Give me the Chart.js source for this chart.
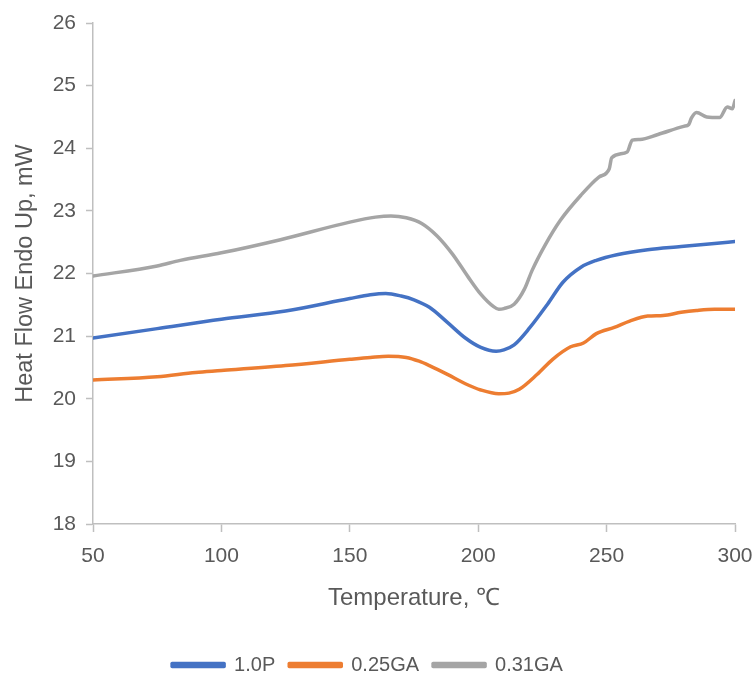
<!DOCTYPE html>
<html>
<head>
<meta charset="utf-8">
<script src="https://cdn.jsdelivr.net/npm/chart.js@4"></script>
<style>
  html, body { margin: 0; padding: 0; background: #fff; }
  #wrap { width: 754px; height: 675px; }
</style>
</head>
<body>
<div id="wrap"><canvas id="c" width="754" height="675"></canvas></div>
<script>
// temperatures (°C) and heat flow (mW)
const tempP = [50, 75, 100, 125, 150, 158, 164, 170, 175, 181, 188, 195, 201, 207, 210, 214, 220, 227, 233, 240, 246, 254, 266, 279, 292, 300];
const flowP = [20.97, 21.12, 21.27, 21.40, 21.60, 21.66, 21.68, 21.64, 21.58, 21.46, 21.22, 20.97, 20.82, 20.76, 20.78, 20.86, 21.13, 21.51, 21.86, 22.10, 22.21, 22.30, 22.38, 22.43, 22.48, 22.51];

const tempGA25 = [50, 75, 90, 100, 125, 150, 158, 165, 172, 177, 181, 188, 195, 201, 208, 212, 216, 223, 229, 236, 241, 246, 253, 259, 266, 272, 279, 285, 292, 300];
const flowGA25 = [20.30, 20.35, 20.42, 20.45, 20.53, 20.63, 20.66, 20.68, 20.66, 20.60, 20.53, 20.39, 20.24, 20.14, 20.08, 20.09, 20.15, 20.39, 20.63, 20.83, 20.89, 21.04, 21.14, 21.24, 21.32, 21.33, 21.38, 21.41, 21.43, 21.43];

const tempGA31 = [50, 75, 84, 100, 123, 150, 160, 166, 172, 178, 184, 190, 196, 201, 206, 208, 210, 214, 218, 221, 226, 232, 240, 247, 251, 252, 258, 260, 263, 270, 280, 282, 283, 285, 289, 294, 297, 299, 300];
const flowGA31 = [21.96, 22.12, 22.21, 22.33, 22.54, 22.82, 22.90, 22.92, 22.89, 22.80, 22.60, 22.31, 21.95, 21.67, 21.47, 21.43, 21.44, 21.51, 21.75, 22.05, 22.45, 22.85, 23.25, 23.54, 23.67, 23.85, 23.94, 24.13, 24.14, 24.22, 24.35, 24.38, 24.48, 24.57, 24.50, 24.49, 24.66, 24.63, 24.76];

const seriesNames = ['1.0P', '0.25GA', '0.31GA'];
const seriesColors = ['#4472C4', '#ED7D31', '#A5A5A5'];

function toPoints(xs, ys){
	return xs.map((x, i) => ({ x: x, y: ys[i] }));
}

const textColor = '#595959';
const axisColor = '#BFBFBF';
const fontFam = '"Liberation Sans", Arial, sans-serif';

const datasets = [
	toPoints(tempP, flowP),
	toPoints(tempGA25, flowGA25),
	toPoints(tempGA31, flowGA31)
].map((pts, i) => ({
	label: seriesNames[i],
	data: pts,
	borderColor: seriesColors[i],
	backgroundColor: seriesColors[i],
	borderWidth: 3.5,
	borderCapStyle: 'round',
	borderJoinStyle: 'round',
	pointRadius: 0,
	cubicInterpolationMode: 'monotone',
	fill: false
}));

new Chart(document.getElementById('c'), {
	type: 'line',
	data: { datasets: datasets },
	options: {
		responsive: false,
		animation: false,
		// negative bottom pushes the legend a little lower, like the original
		layout: { padding: { top: 23, right: 19, left: 0, bottom: -10 } },
		plugins: {
			tooltip: { enabled: false },
			legend: {
				position: 'bottom',
				labels: {
					color: textColor,
					font: { family: fontFam, size: 20 },
					boxWidth: 52,
					boxHeight: 3,
					padding: 14
				}
			}
		},
		scales: {
			x: {
				type: 'linear',
				min: 50, max: 300,
				border: { color: axisColor, width: 1.5 },
				grid: { drawOnChartArea: false, tickLength: 8, tickColor: axisColor, tickWidth: 1.5 },
				ticks: { stepSize: 50, color: textColor, font: { family: fontFam, size: 21 }, padding: 12, maxRotation: 0 },
				title: { display: true, text: 'Temperature, ℃', color: textColor, font: { family: fontFam, size: 24 }, padding: { top: 0, bottom: 28 } },
				afterFit: s => { s.height = 117; s.paddingLeft = 0; s.paddingRight = 0; }
			},
			y: {
				min: 18, max: 26,
				border: { color: axisColor, width: 1.5 },
				grid: { drawOnChartArea: false, tickLength: 7, tickColor: axisColor, tickWidth: 1.5 },
				ticks: { stepSize: 1, color: textColor, font: { family: fontFam, size: 21 }, padding: 10 },
				title: { display: true, text: 'Heat Flow Endo Up, mW', color: textColor, font: { family: fontFam, size: 23.5 }, padding: { top: 11, bottom: 0 } },
				afterFit: s => { s.width = 93; }
			}
		}
	}
});
</script>
</body>
</html>
